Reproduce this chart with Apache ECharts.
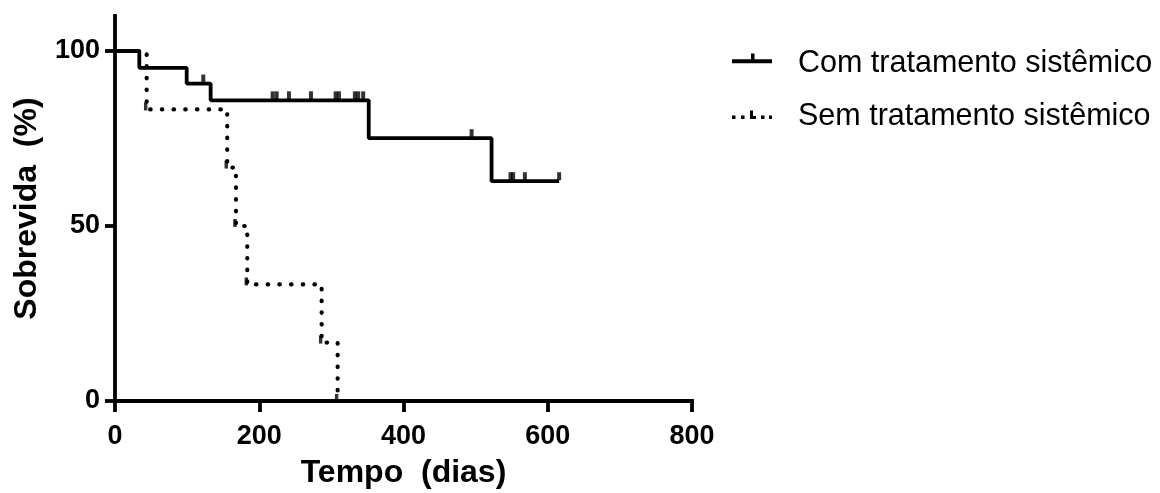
<!DOCTYPE html>
<html>
<head>
<meta charset="utf-8">
<script src="https://cdn.jsdelivr.net/npm/echarts@6/dist/echarts.min.js"></script>
<style>
  html, body { margin: 0; padding: 0; background: #fff; }
  #chart { width: 1160px; height: 493px; }
</style>
</head>
<body>
<div id="chart"></div>
<script>
// Kaplan–Meier survival: step times (days) and survival (%) after each step
const seriesNames = ['Com tratamento sistêmico', 'Sem tratamento sistêmico'];

const comTimes    = [0, 33.7, 99.4, 132.6, 351.8, 522.1, 615.8];
const comSurvival = [100, 95.2, 90.7, 85.9, 75.1, 62.8, 62.8];
// censored follow-up times (days), group with treatment
const comCensored = [122.4, 218.6, 224.1, 241.2, 271.7, 305.9, 310.5, 332.6, 337.2, 344.1,
                     494.4, 548.4, 552.0, 568.3, 615.8];

const semTimes    = [0, 43.9, 155.6, 167.7, 183.4, 286.5, 308.7];
const semSurvival = [100, 83.3, 66.7, 50, 33.3, 16.7, 0];

const xTicks = [0, 200, 400, 600, 800];
const yTicks = [0, 50, 100];

const FONT = "'Liberation Sans', Arial, Helvetica, sans-serif";
const INK = '#000';

function zip(xs, ys) { return xs.map((x, i) => [x, ys[i]]); }

// survival level of a step curve at time t
function levelAt(times, surv, t) {
  let v = surv[0];
  for (let i = 0; i < times.length; i++) if (times[i] <= t) v = surv[i];
  return v;
}

const censorPoints = comCensored.map(t => [t, levelAt(comTimes, comSurvival, t)]);
const semDropMarks = zip(semTimes, semSurvival).slice(1);

const chart = echarts.init(document.getElementById('chart'), null, { renderer: 'canvas' });

const LW = 3.8;
const axisLine = { show: true, onZero: false, lineStyle: { color: INK, width: LW, cap: 'square' } };
const axisTick = { show: true, length: 10, lineStyle: { color: INK, width: LW } };
const tickLabel = { color: INK, fontSize: 27, fontWeight: 'bold', fontFamily: FONT };
const nameStyle = { color: INK, fontSize: 32, fontWeight: 'bold', fontFamily: FONT };

// legend glyphs in a 61x20 box; hairline specks at two corners pin the box size
const boxPins = 'M0,0 L0.01,0 L0,0.01 Z M61,20 L60.99,20 L61,19.99 Z ';
const iconCom = 'path://' + boxPins +
  'M0,5.8 L40,5.8 L40,9.8 L0,9.8 Z M19,0 L22.5,0 L22.5,5.8 L19,5.8 Z';
const iconSem = 'path://' + boxPins +
  'M0,9 L3.5,9 L3.5,12.5 L0,12.5 Z M9,9 L12.5,9 L12.5,12.5 L9,12.5 Z ' +
  'M18,4 L21,4 L21,12.5 L18,12.5 Z M21,9.5 L24,9.5 L24,12.5 L21,12.5 Z ' +
  'M29,9 L32.5,9 L32.5,12.5 L29,12.5 Z M37,9 L40,9 L40,12.5 L37,12.5 Z';

const legendBase = {
  orient: 'vertical', left: 732, padding: 0,
  itemWidth: 61, itemHeight: 20,
  textStyle: { color: INK, fontSize: 30.5, fontFamily: FONT },
  selectedMode: false
};

chart.setOption({
  animation: false,
  backgroundColor: '#fff',
  grid: { left: 115, right: 468, top: 16, bottom: 92, containLabel: false, outerBoundsMode: 'none' },
  legend: [
    Object.assign({}, legendBase, { top: 48, data: [{ name: seriesNames[0], icon: iconCom }] }),
    Object.assign({}, legendBase, { top: 101, data: [{ name: seriesNames[1], icon: iconSem }] })
  ],
  xAxis: {
    type: 'value', min: xTicks[0], max: xTicks[xTicks.length - 1], interval: 200,
    splitLine: { show: false },
    axisLine, axisTick: Object.assign({}, axisTick, { length: 11 }),
    axisLabel: Object.assign({ margin: 22 }, tickLabel),
    name: 'Tempo  (dias)', nameLocation: 'middle', nameGap: 56, nameTextStyle: nameStyle
  },
  yAxis: {
    type: 'value', min: 0, max: 110,
    splitLine: { show: false },
    axisLine,
    axisTick: Object.assign({}, axisTick, { customValues: yTicks }),
    axisLabel: Object.assign({ margin: 15, customValues: yTicks }, tickLabel),
    name: 'Sobrevida  (%)', nameLocation: 'middle', nameGap: 72, nameRotate: 90, nameTextStyle: nameStyle
  },
  series: [
    {
      name: seriesNames[1], type: 'line', step: 'end', symbol: 'none', z: 2,
      data: zip(semTimes, semSurvival),
      itemStyle: { color: INK },
      lineStyle: { color: INK, width: 4.2, type: [0.5, 11.2], cap: 'round' }
    },
    {
      name: seriesNames[1], type: 'scatter', symbol: 'rect', symbolSize: [3.4, 8], symbolOffset: [-1, -3], z: 2,
      data: semDropMarks, itemStyle: { color: INK }, silent: true
    },
    {
      name: seriesNames[0], type: 'line', step: 'end', symbol: 'none', z: 3,
      data: zip(comTimes, comSurvival),
      itemStyle: { color: INK },
      lineStyle: { color: INK, width: LW }
    },
    {
      name: seriesNames[0], type: 'scatter', symbol: 'rect', symbolSize: [4, 8], symbolOffset: [0, -5], z: 3,
      data: censorPoints, itemStyle: { color: INK }, silent: true
    }
  ]
});
</script>
</body>
</html>
